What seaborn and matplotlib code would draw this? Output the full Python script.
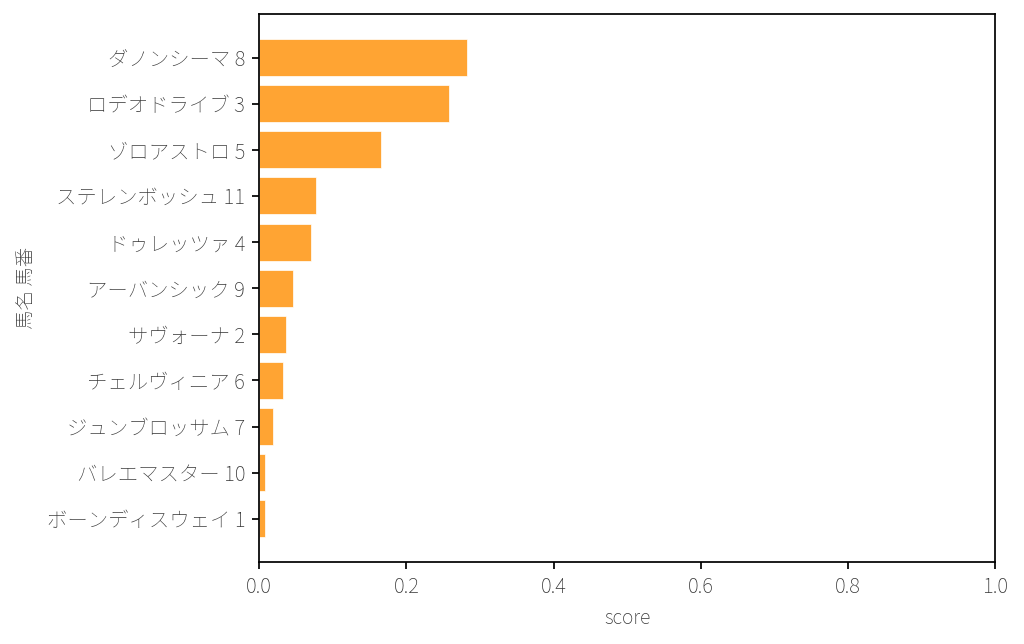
import pandas as pd
import numpy as np
import matplotlib
matplotlib.use('Agg')
import matplotlib.pyplot as plt
import seaborn as sns

# データ
horses = ['ダノンシーマ 8', 'ロデオドライブ 3', 'ゾロアストロ 5', 'ステレンボッシュ 11',
          'ドゥレッツァ 4', 'アーバンシック 9', 'サヴォーナ 2', 'チェルヴィニア 6',
          'ジュンブロッサム 7', 'バレエマスター 10', 'ボーンディスウェイ 1']
scores = [0.282, 0.258, 0.166, 0.077, 0.071, 0.046, 0.036, 0.033, 0.019, 0.008, 0.008]

df = pd.DataFrame({'馬名 馬番': horses, 'score': scores})

sns.set_style('ticks')
plt.rcParams['font.family'] = ['Noto Sans CJK JP', 'DejaVu Sans']
plt.rcParams['font.weight'] = 'ultralight'
plt.rcParams['axes.labelweight'] = 'ultralight'
plt.rcParams['text.color'] = '#333333'
plt.rcParams['axes.labelcolor'] = '#333333'

fig, ax = plt.subplots(figsize=(10.24, 6.44), dpi=100)
sns.barplot(data=df, x='score', y='馬名 馬番', color='#ffa433', saturation=1,
            edgecolor='white', linewidth=0.5, width=0.8, ax=ax)

ax.set_xlim(0, 1)
ax.set_ylim(len(horses) - 1 + 0.94, -0.94)
ax.tick_params(labelsize=14.7, colors='black', labelcolor='#333333',
               length=5, width=1.25, pad=5)
ax.set_xlabel('score', fontsize=14, labelpad=7)
ax.set_ylabel('馬名 馬番', fontsize=14, labelpad=7)
for s in ax.spines.values():
    s.set_visible(True)
    s.set_color('black')
    s.set_linewidth(1.25)

plt.subplots_adjust(left=0.253, right=0.972, top=0.978, bottom=0.127)
plt.savefig('out.png', dpi=100)
